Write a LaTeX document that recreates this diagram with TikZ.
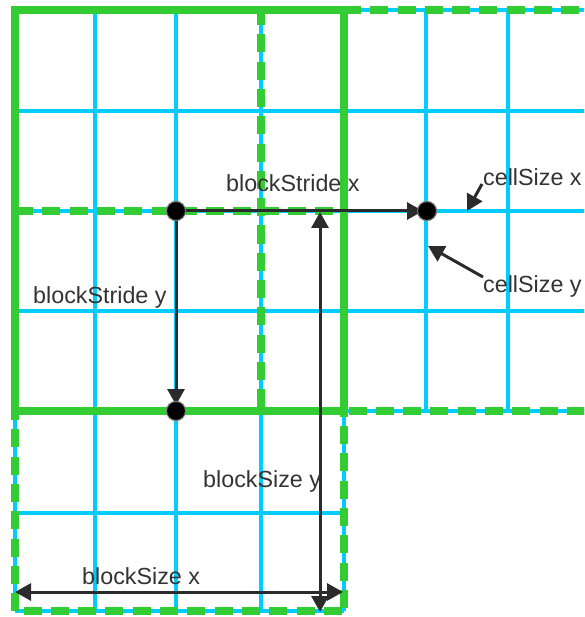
\documentclass[tikz,border=0pt]{standalone}
\usepackage{fontspec}
\setmainfont{Liberation Sans}
\usetikzlibrary{arrows.meta}
\definecolor{gridcyan}{HTML}{00CCFF}
\definecolor{blockgreen}{HTML}{33CC33}
\definecolor{ink}{HTML}{2B2B2B}
\definecolor{txt}{HTML}{333333}
\begin{document}
\begin{tikzpicture}[x=1pt,y=-1pt,
  cellline/.style={draw=gridcyan, line width=4pt},
  blocksolid/.style={draw=blockgreen, line width=8.5pt, line join=miter},
  blockdash/.style={draw=blockgreen, line width=8.5pt, dash pattern=on 18pt off 9.3pt},
  tipshape/.tip={Triangle[length=16pt,width=17pt]},
  dimarrow/.style={draw=ink, line width=3pt, -tipshape},
  dimboth/.style={draw=ink, line width=3pt, tipshape-tipshape},
  dotnode/.style={circle, fill=black, draw=ink!60, line width=1pt, minimum size=19pt, inner sep=0pt},
  lbl/.style={font=\fontsize{23.3}{27}\selectfont, text=txt, anchor=base west, inner sep=0pt}]
\useasboundingbox (0,0) rectangle (584,617);
\clip (0,0) rectangle (584,617);
% cyan cell grid
\foreach \yy in {10,111,211,311,411} \draw[cellline] (15,\yy) -- (595,\yy);
\foreach \yy in {513,611} \draw[cellline] (15,\yy) -- (344,\yy);
\foreach \xx in {15,95,176,261,344} \draw[cellline] (\xx,10) -- (\xx,611);
\foreach \xx in {426,508,591} \draw[cellline] (\xx,10) -- (\xx,411);
% dashed blocks (stride x)
\draw[blockdash] (261,10) -- (600,10);
\draw[blockdash, dash phase=21.2pt] (591,411) -- (344,411);
\draw[blockdash, dash phase=23.6pt] (261,411) -- (261,10);
% dashed block (stride y)
\draw[blockdash] (15,211) -- (344,211);
\draw[blockdash] (15,211) -- (15,611);
\draw[blockdash, dash phase=18.8pt] (15,611) -- (344,611);
\draw[blockdash, dash phase=12.3pt] (344,411) -- (344,611);
% solid block
\draw[blocksolid] (15,10) -- (344,10) -- (344,411) -- (15,411) -- cycle;
% points
\node[dotnode] (d1) at (176,211) {};
\node[dotnode] (d2) at (427,211) {};
\node[dotnode] (d3) at (176,411) {};
% coordinates for dimension arrows
\coordinate (bsyTop) at (320,212);
\coordinate (bsyBot) at (320,612);
\coordinate (bsxL) at (15,592);
\coordinate (bsxR) at (343,592);
\coordinate (csxFrom) at (482,184);
\coordinate (csxTo) at (467,211);
\coordinate (csyFrom) at (483,277);
\coordinate (csyTo) at (428,246);
% arrows
\draw[dimarrow, shorten >=4pt] (d1.center) -- (d2.center);
\draw[dimarrow, shorten >=6pt] (d1.center) -- (d3.center);
\draw[dimboth] (bsyBot) -- (bsyTop);
\draw[dimboth] (bsxL) -- (bsxR);
\draw[dimarrow] (csxFrom) -- (csxTo);
\draw[dimarrow] (csyFrom) -- (csyTo);
% dots on top
\node[dotnode] at (d1) {};
\node[dotnode] at (d2) {};
\node[dotnode] at (d3) {};
% labels
\node[lbl] (lstridex) at (226,192) {blockStride x};
\node[lbl] (lstridey) at (33,303) {blockStride y};
\node[lbl] (lcellx) at (483,186) {cellSize x};
\node[lbl] (lcelly) at (483,292) {cellSize y};
\node[lbl] (lsizey) at (203,487) {blockSize y};
\node[lbl] (lsizex) at (82,584) {blockSize x};
\end{tikzpicture}
\end{document}
